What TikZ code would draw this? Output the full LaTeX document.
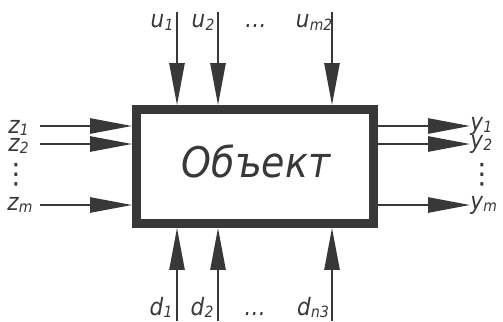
\documentclass[tikz,border=0pt]{standalone}
\usepackage{fontspec}
\setmainfont{DejaVu Sans}
\newfontfamily\draftfont{DejaVu Sans Condensed}
\usepackage{tikz}
\usetikzlibrary{arrows.meta,positioning}
\definecolor{inkgrey}{HTML}{383838}
\tikzset{
  bd/object/.style={draw=inkgrey, line width=0.22cm, minimum width=5.925cm, minimum height=2.85cm, inner sep=0pt},
  bd/title/.style={font=\draftfont\itshape\fontsize{30}{32}\selectfont, text=inkgrey, inner sep=0pt},
  bd/signal/.style={draw=inkgrey, line width=0.05cm, -{Triangle[length=1.05cm,width=0.38cm]}},
  bd/label/.style={font=\draftfont\itshape\fontsize{17}{18}\selectfont, text=inkgrey, inner sep=0pt},
  bd/dots/.style={bd/label, anchor=base},
  bd/vdots/.style={font=\fontsize{20}{22}\selectfont, text=inkgrey, inner sep=0pt}
}
\newcommand{\sig}[2]{#1\kern0.3pt\raisebox{-0.2ex}{\fontsize{11}{12}\selectfont#2}}

\begin{document}
\begin{tikzpicture}[x=0.025cm, y=-0.025cm]
\useasboundingbox (0,0) rectangle (503,321);
\node[bd/object] (obj) at (255,166.5) {};
\node[bd/title] (title) at (256,161) {Объект};
% controls from above
\coordinate (u1) at (177,12);
\coordinate (u2) at (218,12);
\coordinate (um) at (332,12);
\draw[bd/signal] (u1) -- (u1 |- obj.north);
\draw[bd/signal] (u2) -- (u2 |- obj.north);
\draw[bd/signal] (um) -- (um |- obj.north);
\node[bd/label, anchor=base] (lu1) at (162,28) {\sig{u}{1}};
\node[bd/label, anchor=base] (lu2) at (203,28) {\sig{u}{2}};
\node[bd/dots] (udots) at (256,28) {\dots};
\node[bd/label, anchor=base] (lum) at (314,28) {\sig{u}{m2}};
% disturbances from below
\coordinate (d1) at (177,321);
\coordinate (d2) at (218,321);
\coordinate (dn) at (332,321);
\draw[bd/signal] (d1) -- (d1 |- obj.south);
\draw[bd/signal] (d2) -- (d2 |- obj.south);
\draw[bd/signal] (dn) -- (dn |- obj.south);
\node[bd/label, anchor=base] (ld1) at (161,315) {\sig{d}{1}};
\node[bd/label, anchor=base] (ld2) at (202,315) {\sig{d}{2}};
\node[bd/dots] (ddots) at (255,315) {\dots};
\node[bd/label, anchor=base] (ldn) at (313,315) {\sig{d}{n3}};
% inputs
\coordinate (z1) at (40,126);
\coordinate (z2) at (40,144);
\coordinate (zm) at (40,205);
\draw[bd/signal] (z1) -- (z1 -| obj.west);
\draw[bd/signal] (z2) -- (z2 -| obj.west);
\draw[bd/signal] (zm) -- (zm -| obj.west);
\node[bd/label, anchor=base west] (lz1) at (8,133) {\sig{z}{1}};
\node[bd/label, anchor=base west] (lz2) at (8,151) {\sig{z}{2}};
\node[bd/vdots] (zdots) at (16,175) {⋮};
\node[bd/label, anchor=base west] (lzm) at (7,210) {\sig{z}{m}};
% outputs
\coordinate (y1) at (470,126);
\coordinate (y2) at (470,144);
\coordinate (ym) at (470,205);
\draw[bd/signal] (y1 -| obj.east) -- (y1);
\draw[bd/signal] (y2 -| obj.east) -- (y2);
\draw[bd/signal] (ym -| obj.east) -- (ym);
\node[bd/label, anchor=base west] (ly1) at (470,130) {\sig{y}{1}};
\node[bd/label, anchor=base west] (ly2) at (470,148) {\sig{y}{2}};
\node[bd/vdots] (ydots) at (482,175) {⋮};
\node[bd/label, anchor=base west] (lym) at (470,209) {\sig{y}{m}};
\end{tikzpicture}
\end{document}
